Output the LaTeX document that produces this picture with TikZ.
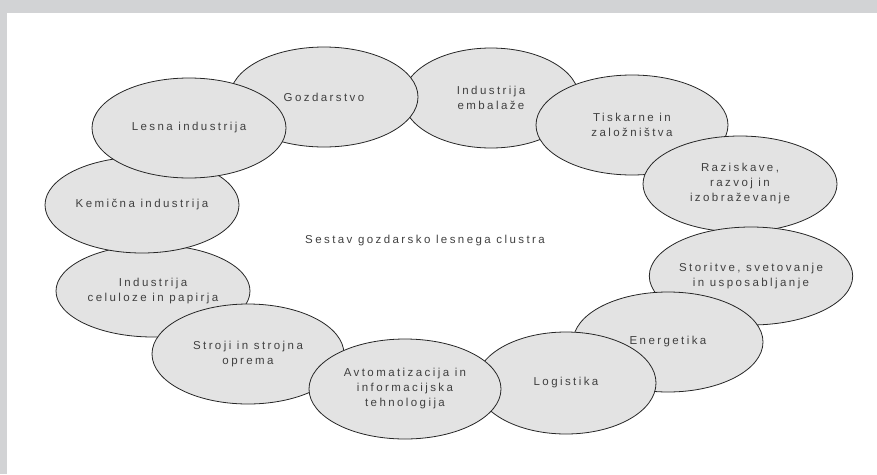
\documentclass[tikz,border=0pt]{standalone}
\usepackage{fontspec}
\usepackage{tikz}
\usetikzlibrary{shapes.geometric}
\newfontfamily\clusterfont[LetterSpace=21]{Liberation Sans}
\definecolor{framegrey}{HTML}{D2D3D5}
\definecolor{ovalgrey}{HTML}{E3E3E3}

\begin{document}
\begin{tikzpicture}[
  x=1pt,y=-1pt,
  part/.style={ellipse,draw=black!85,line width=0.8pt,fill=ovalgrey,inner sep=0pt,
  align=center,font=\clusterfont\fontsize{11.5}{15}\selectfont,text=black!75},
  title/.style={font=\clusterfont\fontsize{11.5}{15}\selectfont,text=black!75}
]
\useasboundingbox (0,0) rectangle (877,474);
\fill[framegrey] (0,0) rectangle (877,13);
\fill[framegrey] (0,0) rectangle (7,474);
% ring of cluster members
\node[part,minimum width=176pt,minimum height=100pt] (emb) at (491,98) {Industrija\\embalaže};
\node[part,minimum width=188pt,minimum height=100pt] (gozd) at (324,97) {Gozdarstvo};
\node[part,minimum width=192pt,minimum height=100pt] (tisk) at (632,125) {Tiskarne in\\založništva};
\node[part,minimum width=194pt,minimum height=96pt] (razi) at (740,184) {Raziskave,\\razvoj in\\izobraževanje};
\node[part,minimum width=194pt,minimum height=98pt] (stor) at (751,276) {Storitve, svetovanje\\in usposabljanje};
\node[part,minimum width=190pt,minimum height=100pt] (ener) at (668,342) {Energetika};
\node[part,minimum width=180pt,minimum height=102pt] (logi) at (566,383) {Logistika};
\node[part,minimum width=194pt,minimum height=92pt] (celu) at (153,291) {Industrija\\celuloze in papirja};
\node[part,minimum width=192pt,minimum height=100pt] (stro) at (248,354) {Stroji in strojna\\oprema};
\node[part,minimum width=192pt,minimum height=100pt] (avto) at (405,389) {Avtomatizacija in\\informacijska\\tehnologija};
\node[part,minimum width=194pt,minimum height=96pt] (kemi) at (142,205) {Kemična industrija};
\node[part,minimum width=194pt,minimum height=100pt] (lesna) at (189,128) {Lesna industrija};
% centre label
\node[title] (sestav) at (425,241) {Sestav gozdarsko lesnega clustra};
\end{tikzpicture}
\end{document}
